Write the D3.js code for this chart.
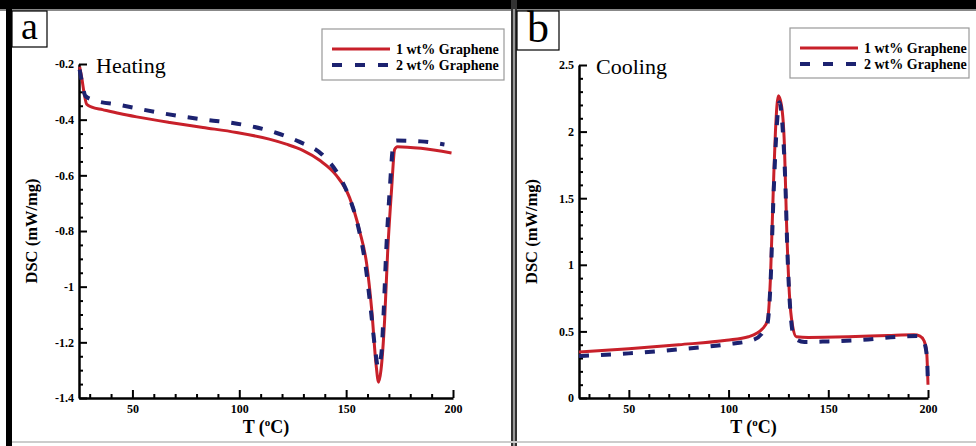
<!DOCTYPE html>
<html><head><meta charset="utf-8">
<script src="https://cdn.jsdelivr.net/npm/d3@7/dist/d3.min.js"></script>
<style>body{margin:0;background:#fff;} svg{display:block;}</style>
</head><body>
<svg id="c" width="976" height="446"></svg>
<script>
// ---- Data ----
const seriesNames = ["1 wt% Graphene", "2 wt% Graphene"];

// Panel a (Heating): temperature (°C) and DSC (mW/mg)
const heatT1 = [25.3,26.3,27.5,28.6,31,36,44,52,67.5,83,98.7,114,122,129.7,137.6,145.4,151.6,156.3,159.6,162,164,165.2,166.3,168,169.4,171.3,172.7,174,185,199.3];
const heatV1 = [-0.21,-0.25,-0.31,-0.345,-0.355,-0.364,-0.378,-0.39,-0.41,-0.428,-0.446,-0.47,-0.488,-0.51,-0.546,-0.60,-0.68,-0.80,-0.918,-1.086,-1.28,-1.343,-1.30,-1.12,-0.88,-0.646,-0.507,-0.497,-0.503,-0.52];
const heatT2 = [25.3,26.5,28,31.5,44,64,86,97,117.5,128,139,147,151,155.5,159,161.5,163.5,165,166.5,167.5,168.7,170.5,172,173.5,185,196];
const heatV2 = [-0.22,-0.27,-0.315,-0.329,-0.347,-0.377,-0.402,-0.412,-0.448,-0.479,-0.527,-0.606,-0.67,-0.78,-0.92,-1.08,-1.22,-1.29,-1.24,-1.10,-0.88,-0.64,-0.495,-0.475,-0.478,-0.489];

// Panel b (Cooling)
const coolT1 = [25,50,75,99,110,117,119.5,121,122.5,123.5,125,126.5,128,129,130.5,132,134,140,160,180,193,196,198,199.3,200];
const coolV1 = [0.345,0.37,0.40,0.433,0.46,0.52,0.58,0.9,1.6,2.0,2.27,2.2,1.9,1.35,0.78,0.55,0.46,0.455,0.46,0.47,0.475,0.465,0.43,0.35,0.10];
const coolT2 = [25,50,75,100,112,117,119.5,121,122.5,124,125.5,127,128.5,129.5,131,133,138,150,170,185,195,198,199.5,200];
const coolV2 = [0.315,0.335,0.365,0.405,0.435,0.49,0.56,0.85,1.5,2.0,2.22,2.05,1.6,1.1,0.65,0.45,0.42,0.425,0.44,0.46,0.465,0.42,0.3,0.08];

// Axis ticks
const xTicks = [50,100,150,200];
const xTickLabels = ["50","100","150","200"];
const xMinor = [30,40,60,70,80,90,110,120,130,140,160,170,180,190];
const yTicksA = [-1.4,-1.2,-1,-0.8,-0.6,-0.4,-0.2];
const yTickLabelsA = ["-1.4","-1.2","-1","-0.8","-0.6","-0.4","-0.2"];
const yMinorA = [-1.35,-1.3,-1.25,-1.15,-1.1,-1.05,-0.95,-0.9,-0.85,-0.75,-0.7,-0.65,-0.55,-0.5,-0.45,-0.35,-0.3,-0.25];
const yTicksB = [0,0.5,1,1.5,2,2.5];
const yTickLabelsB = ["0","0.5","1","1.5","2","2.5"];
const yMinorB = [0.1,0.2,0.3,0.4,0.6,0.7,0.8,0.9,1.1,1.2,1.3,1.4,1.6,1.7,1.8,1.9,2.1,2.2,2.3,2.4];

// ---- Drawing ----
const svg = d3.select("#c");
const FONT = "'Liberation Serif','Times New Roman',serif";
const RED = "#c8202a", BLUE = "#1c2270";

// outer frame
svg.append("rect").attr("x",0).attr("y",0).attr("width",976).attr("height",9).attr("fill","#000");
svg.append("rect").attr("x",0).attr("y",9).attr("width",976).attr("height",2).attr("fill","#888");
svg.append("rect").attr("x",6).attr("y",0).attr("width",6).attr("height",446).attr("fill","#000");
svg.append("rect").attr("x",511).attr("y",0).attr("width",6).attr("height",446).attr("fill","#333");
svg.append("rect").attr("x",513).attr("y",9).attr("width",2).attr("height",437).attr("fill","#999");
svg.append("rect").attr("x",12).attr("y",441).attr("width",964).attr("height",2).attr("fill","#ccc");

function panel(cfg){
  const g = svg.append("g");
  const x = d3.scaleLinear().domain([25,200]).range(cfg.xr);
  const y = d3.scaleLinear().domain(cfg.yd).range(cfg.yr);

  // panel letter box
  g.append("rect").attr("x",cfg.lb[0]).attr("y",cfg.lb[1]).attr("width",cfg.lb[2]).attr("height",cfg.lb[3])
    .attr("fill","#fff").attr("stroke","#000").attr("stroke-width",1.2);
  g.append("text").attr("x",cfg.lb[0]+cfg.lb[2]/2).attr("y",cfg.lb[1]+cfg.lb[3]-8)
    .attr("text-anchor","middle").attr("font-family",FONT).attr("font-size",cfg.lfs).text(cfg.letter);

  // axes
  const xAxis = d3.axisBottom(x).tickValues(xTicks).tickFormat((d,i)=>xTickLabels[i]).tickSizeInner(-8).tickSizeOuter(0).tickPadding(6);
  const gx = g.append("g").attr("transform",`translate(0,${cfg.yr[0]})`).call(xAxis);
  const xMinorAxis = d3.axisBottom(x).tickValues(xMinor).tickFormat("").tickSizeInner(-4).tickSizeOuter(0);
  g.append("g").attr("transform",`translate(0,${cfg.yr[0]})`).call(xMinorAxis).select(".domain").remove();

  const yAxis = d3.axisLeft(y).tickValues(cfg.yt).tickFormat((d,i)=>cfg.ytl[i]).tickSizeInner(-8).tickSizeOuter(0).tickPadding(5);
  g.append("g").attr("transform",`translate(${cfg.xr[0]},0)`).call(yAxis);
  const yMinorAxis = d3.axisLeft(y).tickValues(cfg.ym).tickFormat("").tickSizeInner(-4).tickSizeOuter(0);
  g.append("g").attr("transform",`translate(${cfg.xr[0]},0)`).call(yMinorAxis).select(".domain").remove();

  g.selectAll(".domain").attr("stroke","#000").attr("stroke-width",2.5);
  g.selectAll(".tick line").attr("stroke","#000").attr("stroke-width",2);
  g.selectAll(".tick text").attr("font-family",FONT).attr("font-weight","bold").attr("font-size",12).attr("fill","#000");

  // axis titles
  const tt = g.append("text").attr("x",(cfg.xr[0]+cfg.xr[1])/2).attr("y",433).attr("text-anchor","middle")
    .attr("font-family",FONT).attr("font-weight","bold").attr("font-size",18);
  tt.append("tspan").text("T (");
  tt.append("tspan").attr("font-size",11).attr("dy",-7).text("o");
  tt.append("tspan").attr("dy",7).text("C)");
  g.append("text").attr("transform",`translate(${cfg.xr[0]-42},${(cfg.yr[0]+cfg.yr[1])/2}) rotate(-90)`)
    .attr("text-anchor","middle").attr("font-family",FONT).attr("font-weight","bold").attr("font-size",16.5).text("DSC (mW/mg)");

  // title
  g.append("text").attr("x",cfg.xr[0]+17).attr("y",cfg.yr[1]+9).attr("font-family",FONT).attr("font-size",22).text(cfg.title);

  // lines
  const line = d3.line().x(d=>x(d[0])).y(d=>y(d[1])).curve(d3.curveMonotoneX);
  g.append("path").datum(d3.zip(cfg.t1,cfg.v1)).attr("d",line).attr("fill","none").attr("stroke",RED).attr("stroke-width",3);
  g.append("path").datum(d3.zip(cfg.t2,cfg.v2)).attr("d",line).attr("fill","none").attr("stroke",BLUE).attr("stroke-width",4).attr("stroke-dasharray","10,12");

  // legend
  const L = cfg.leg;
  g.append("rect").attr("x",L[0]).attr("y",L[1]).attr("width",L[2]).attr("height",L[3]).attr("fill","#fff").attr("stroke","#999").attr("stroke-width",1.2);
  [0,1].forEach(i=>{
    const yy = L[1]+20+i*16;
    g.append("line").attr("x1",L[0]+10).attr("x2",L[0]+68).attr("y1",yy).attr("y2",yy)
      .attr("stroke",i?BLUE:RED).attr("stroke-width",i?4:3).attr("stroke-dasharray",i?"10,13":null);
    g.append("text").attr("x",L[0]+74).attr("y",yy+5).attr("font-family",FONT).attr("font-weight","bold").attr("font-size",14).text(seriesNames[i]);
  });
}

panel({xr:[79,453], yr:[398,64], yd:[-1.4,-0.2], yt:yTicksA, ytl:yTickLabelsA, ym:yMinorA,
  t1:heatT1, v1:heatV1, t2:heatT2, v2:heatV2, title:"Heating", letter:"a", lb:[12,11,35,36], lfs:38, leg:[322,29,182,51]});
panel({xr:[579,928], yr:[398,65], yd:[0,2.5], yt:yTicksB, ytl:yTickLabelsB, ym:yMinorB,
  t1:coolT1, v1:coolV1, t2:coolT2, v2:coolV2, title:"Cooling", letter:"b", lb:[517,11,42,39], lfs:44, leg:[790,28,179,50]});
</script>
</body></html>
